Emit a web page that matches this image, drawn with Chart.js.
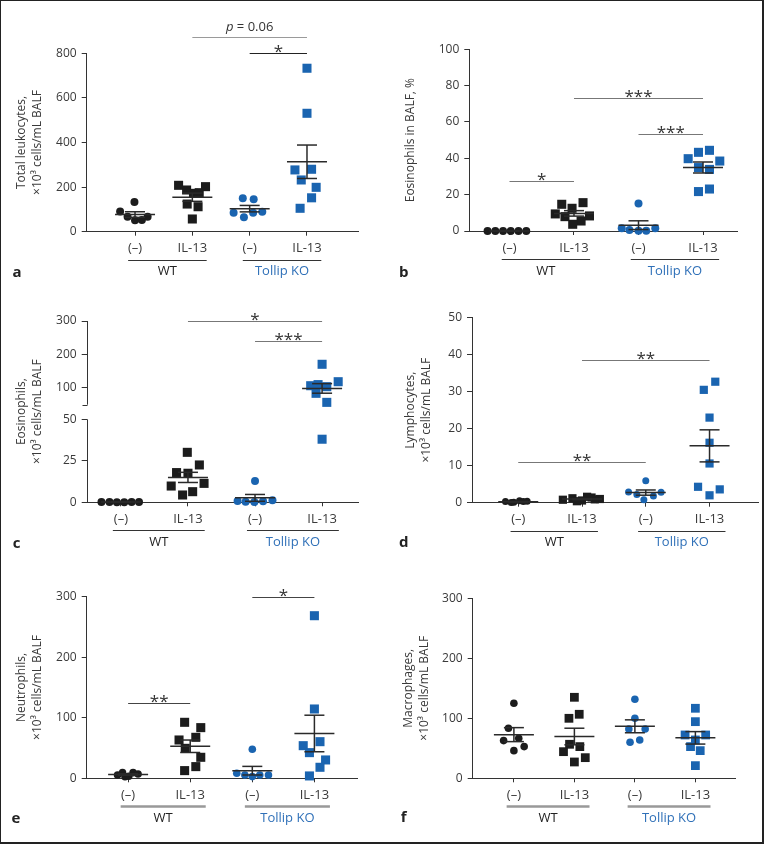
<!DOCTYPE html>
<html><head><meta charset="utf-8">
<script src="https://cdn.jsdelivr.net/npm/chart.js@4.4.1/dist/chart.umd.min.js"></script>
<style>
html,body{margin:0;padding:0;background:#fff;}
#fig{position:relative;width:764px;height:844px;overflow:hidden;background:#fff;}
#fig canvas{position:absolute;}
.frame{position:absolute;left:0;top:0;width:764px;height:844px;box-sizing:border-box;border:1px solid #222;border-right-width:2px;border-bottom-width:2px;pointer-events:none;}
.letter{position:absolute;font:bold 15px "Open Sans","Noto Sans",sans-serif;color:#222;transform:translate(-50%,-55%);line-height:1;}
</style></head><body><div id="fig"><div class="frame"></div></div>
<script>
// ---------------- DATA ----------------
const CAT_LABELS = ['(–)', 'IL-13', '(–)', 'IL-13'];
const GENOTYPES = ['WT', 'Tollip KO'];

const totalLeukocytes = [
  [91, 133, 67, 51, 52, 67],
  [208, 187, 172, 175, 202, 124, 112, 57],
  [150, 145, 85, 65, 85, 90],
  [733, 531, 277, 280, 232, 199, 152, 105]];
const totalLeukocytesX = [
  [-0.26, -0.01, -0.13, 0, 0.12, 0.22],
  [-0.24, -0.10, 0.02, 0.12, 0.23, -0.09, 0.10, 0],
  [-0.12, 0.07, -0.28, -0.10, 0.06, 0.22],
  [0, 0, -0.21, 0.08, -0.10, 0.16, 0.08, -0.12]];

const eosPercent = [
  [0, 0, 0, 0, 0, 0],
  [14.7, 12.5, 15.6, 9.4, 7.9, 8.3, 5.5, 3.7],
  [15.2, 1.5, 0.6, 0.2, 0.2, 1.5],
  [39.8, 43.3, 44.4, 38.5, 34.9, 33.9, 21.7, 23.1]];
const eosPercentX = [
  [-0.34, -0.22, -0.10, 0.02, 0.14, 0.26],
  [-0.19, -0.03, 0.14, -0.29, -0.14, 0.24, 0.11, -0.02],
  [0, -0.26, -0.14, 0, 0.12, 0.26],
  [-0.23, -0.07, 0.10, 0.26, -0.07, 0.10, -0.07, 0.10]];

const eosCount = [
  [0.2, 0.2, 0.1, 0.1, 0.2, 0.2],
  [30.1, 22.5, 17.9, 17.5, 9.8, 11.4, 6.4, 4.4],
  [12.9, 0.8, 0.3, 0.2, 0.6, 1.2],
  [170.7, 106.7, 84, 103.8, 118.7, 57, 38, 110]];
const eosCountX = [
  [-0.29, -0.17, -0.06, 0.05, 0.16, 0.27],
  [-0.01, 0.17, -0.17, 0, -0.25, 0.24, 0.07, -0.08],
  [0, -0.26, -0.14, -0.01, 0.12, 0.26],
  [0, -0.17, -0.09, 0.07, 0.24, 0.07, 0, -0.06]];

const lymphocytes = [
  [0.3, 0.1, 0.5, 0.4, 0.05, 0.3],
  [0.8, 1.2, 0.6, 1.4, 1.0, 0.4, 1.6, 0.9],
  [5.9, 2.9, 2.2, 0.8, 1.8, 2.8],
  [30.5, 32.7, 23.0, 16.2, 10.6, 4.3, 3.6, 2.0]];
const lymphocytesX = [
  [-0.2, -0.07, 0.02, 0.14, -0.11, 0.08],
  [-0.3, -0.15, 0, 0.15, 0.28, -0.08, 0.08, 0.2],
  [0, -0.27, -0.14, -0.03, 0.12, 0.24],
  [-0.09, 0.09, 0, 0, 0, -0.18, 0.16, 0]];

const neutrophils = [
  [5.5, 9.3, 2.6, 9.3, 7.0, 3.5],
  [92.5, 83.7, 63.3, 67.7, 49.5, 34.7, 19.3, 12.7],
  [47.9, 8.3, 5.5, 2.8, 5.5, 5.5],
  [268.6, 114.5, 53.9, 60.5, 42.4, 30.3, 18.2, 3.9]];
const neutrophilsX = [
  [-0.17, -0.09, -0.05, 0.08, 0.16, 0.01],
  [-0.09, 0.17, -0.18, 0.09, -0.08, 0.17, 0.09, -0.09],
  [0, -0.25, -0.12, 0, 0.12, 0.26],
  [0, 0, -0.18, 0.09, -0.08, 0.18, 0.09, -0.08]];

const macrophages = [
  [125, 83.3, 62.8, 66.7, 52.8, 46.1],
  [135, 100, 106.7, 56.7, 52.8, 44.4, 34.4, 27.2],
  [131.7, 100, 82.2, 82.2, 60, 63.9],
  [116.7, 94.4, 72.2, 72.2, 52.8, 46.1, 63.9, 21.1]];
const macrophagesX = [
  [0, -0.09, -0.17, 0.08, 0.17, 0],
  [0, -0.09, 0.08, -0.08, 0.09, -0.18, 0.18, 0],
  [0, 0, -0.1, 0.17, -0.08, 0.08],
  [0, 0, -0.17, 0.17, -0.08, 0.08, 0, 0]];

// significance brackets: [from category, to category, y value, label]
const sigA = [[2, 4, 875, 'p = 0.06'], [3, 4, 803, '*']];
const sigB = [[1, 2, 27.5, '*'], [2, 4, 73.4, '***'], [3, 4, 53.4, '***']];
const sigC = [[2, 4, 300, '*'], [3, 4, 240, '***']];
const sigD = [[1, 3, 11.1, '**'], [2, 4, 38.6, '**']];
const sigE = [[1, 2, 125, '**'], [3, 4, 300, '*']];
const sigF = [];

const ticksA = [0, 200, 400, 600, 800];
const ticksB = [0, 20, 40, 60, 80, 100];
const ticksC = [0, 25, 50, 100, 200, 300];
const ticksD = [0, 10, 20, 30, 40, 50];
const ticksE = [0, 100, 200, 300];
const ticksF = [0, 100, 200, 300];

const titleA = ['Total leukocytes,', '×10³ cells/mL BALF'];
const titleB = ['Eosinophils in BALF, %'];
const titleC = ['Eosinophils,', '×10³ cells/mL BALF'];
const titleD = ['Lymphocytes,', '×10³ cells/mL BALF'];
const titleE = ['Neutrophils,', '×10³ cells/mL BALF'];
const titleF = ['Macrophages,', '×10³ cells/mL BALF'];

// ---------------- STYLE ----------------
const BLACK = '#1c1c1c', BLUE = '#1a64b0', AXIS = '#333', TXT = '#3a3a3a', BLUE_TXT = '#2f70b8';
const FONT = '"Open Sans", "Noto Sans", sans-serif';
const BREAK = {at: 50, low: 83 / 181.3, high: 83.7 / 181.3};

class BrokenScale extends Chart.LinearScale {
  getPixelForValue(value) {
    const H = this.bottom - this.top, b = BREAK.at;
    if (value <= b) return this.bottom - (value - this.min) / (b - this.min) * H * BREAK.low;
    return this.top + (this.max - value) / (this.max - b) * H * BREAK.high;
  }
  getValueForPixel(p) {
    const H = this.bottom - this.top, b = BREAK.at;
    const lowTop = this.bottom - H * BREAK.low;
    if (p >= lowTop) return this.min + (this.bottom - p) / (H * BREAK.low) * (b - this.min);
    return this.max - (p - this.top) / (H * BREAK.high) * (this.max - b);
  }
}
BrokenScale.id = 'broken';
BrokenScale.defaults = Chart.LinearScale.defaults;
Chart.register(BrokenScale);

const panels = [
  {letter: 'a', lpos: [17, 271.7], cell: [0, 0, 382, 280], area: [86.7, 53.3, 358, 231.7], xr: [0.157, 4.89],
   yr: [0, 800], ticks: ticksA, values: totalLeukocytes, jitter: totalLeukocytesX, sig: sigA, sigCol: ['#9a9a9a', '#222'],
   title: titleA, tpad: 13.9, rc: 4, rs: 6.4, ul: ['#333', 1]},
  {letter: 'b', lpos: [403.7, 271.7], cell: [382, 0, 764, 280], area: [469.3, 49.3, 737, 231], xr: [0.377, 4.527],
   yr: [0, 100], ticks: ticksB, values: eosPercent, jitter: eosPercentX, sig: sigB, sigCol: ['#777', '#777', '#777'],
   title: titleB, tpad: 20.5, rc: 4, rs: 6.4, ul: ['#333', 1]},
  {letter: 'c', lpos: [16.7, 543.3], cell: [0, 280, 382, 560], area: [86.7, 321, 358.3, 502.3], xr: [0.49, 4.54],
   yr: [0, 300], ticks: ticksC, values: eosCount, jitter: eosCountX, sig: sigC, sigCol: ['#777', '#777'],
   title: titleC, tpad: 13.9, rc: 4, rs: 6.4, ul: ['#333', 1], broken: true},
  {letter: 'd', lpos: [403.7, 541.7], cell: [382, 280, 764, 560], area: [472, 317.7, 758, 502.7], xr: [0.275, 4.76],
   yr: [0, 50], ticks: ticksD, values: lymphocytes, jitter: lymphocytesX, sig: sigD, sigCol: ['#777', '#777'],
   title: titleD, tpad: 21.2, rc: 3.5, rs: 5.8, ul: ['#333', 1]},
  {letter: 'e', lpos: [16, 818], cell: [0, 560, 382, 844], area: [86.7, 596.7, 357, 778.3], xr: [0.333, 4.686],
   yr: [0, 300], ticks: ticksE, values: neutrophils, jitter: neutrophilsX, sig: sigE, sigCol: ['#444', '#444'],
   title: titleE, tpad: 13.9, rc: 3.8, rs: 6.4, ul: ['#999', 2.5]},
  {letter: 'f', lpos: [403.7, 817.3], cell: [382, 560, 764, 844], area: [472.7, 598.3, 735, 778.3], xr: [0.319, 4.655],
   yr: [0, 300], ticks: ticksF, values: macrophages, jitter: macrophagesX, sig: sigF, sigCol: [],
   title: titleF, tpad: 18.9, rc: 3.8, rs: 6.2, ul: ['#999', 2.5]}
];

function seg(ctx, x1, y1, x2, y2) { ctx.beginPath(); ctx.moveTo(x1, y1); ctx.lineTo(x2, y2); ctx.stroke(); }

function decor(p) {
  return {
    id: 'decor',
    afterDatasetsDraw(chart) {
      const ctx = chart.ctx, ca = chart.chartArea, xs = chart.scales.x, ys = chart.scales.y;
      ctx.save();
      // mean ± SEM
      p.values.forEach((vals, i) => {
        const n = vals.length, m = vals.reduce((a, b) => a + b, 0) / n;
        const sd = Math.sqrt(vals.reduce((a, b) => a + (b - m) * (b - m), 0) / (n - 1));
        const se = sd / Math.sqrt(n);
        const cx = xs.getPixelForValue(i + 1);
        const ym = ys.getPixelForValue(m), yt = ys.getPixelForValue(m + se), yb = ys.getPixelForValue(Math.max(m - se, 0));
        ctx.strokeStyle = '#2a2a2a'; ctx.lineWidth = 1.5;
        seg(ctx, cx - 20, ym, cx + 20, ym);
        seg(ctx, cx, yt, cx, yb);
        seg(ctx, cx - 10, yt, cx + 10, yt);
        seg(ctx, cx - 10, yb, cx + 10, yb);
      });
      // significance brackets
      p.sig.forEach(([a, b, v, label], k) => {
        const x1 = xs.getPixelForValue(a), x2 = xs.getPixelForValue(b), y = Math.round(ys.getPixelForValue(v)) + 0.5;
        ctx.strokeStyle = p.sigCol[k]; ctx.lineWidth = 1.2;
        seg(ctx, x1, y, x2, y);
        const mid = (x1 + x2) / 2;
        ctx.fillStyle = '#333';
        if (label[0] === 'p') {
          const rest = label.slice(1);
          ctx.font = `italic 13px ${FONT}`; const wp = ctx.measureText('p').width;
          ctx.font = `13px ${FONT}`; const wr = ctx.measureText(rest).width;
          const x0 = mid - (wp + wr) / 2;
          ctx.textBaseline = 'middle'; ctx.textAlign = 'left';
          ctx.font = `italic 13px ${FONT}`; ctx.fillText('p', x0, y - 10);
          ctx.font = `13px ${FONT}`; ctx.fillText(rest, x0 + wp, y - 10);
        } else {
          ctx.font = `17px ${FONT}`; ctx.textAlign = 'center'; ctx.textBaseline = 'alphabetic';
          ctx.fillText(label, mid, y + 3);
        }
      });
      // broken axis segments
      if (p.broken) {
        const ax = Math.round(ca.left) + 0.5;
        const yLow = ys.getPixelForValue(BREAK.at), yUp = ys.getPixelForValue(BREAK.at + 1e-9);
        ctx.strokeStyle = AXIS; ctx.lineWidth = 1;
        seg(ctx, ax, ca.bottom, ax, yLow);
        seg(ctx, ax, ca.top, ax, yUp);
        seg(ctx, ax - 5, Math.round(yUp) + 0.5, ax, Math.round(yUp) + 0.5);
      }
      // genotype underlines and labels
      const uy = Math.round(ca.bottom + 28) + 0.5;
      [[1, 2], [3, 4]].forEach(([a, b], g) => {
        const x1 = xs.getPixelForValue(a - 0.12), x2 = xs.getPixelForValue(b + 0.25);
        ctx.strokeStyle = p.ul[0]; ctx.lineWidth = p.ul[1];
        seg(ctx, x1, uy, x2, uy);
        ctx.fillStyle = g ? BLUE_TXT : '#222';
        ctx.font = `13px ${FONT}`; ctx.textAlign = 'center'; ctx.textBaseline = 'middle';
        ctx.fillText(GENOTYPES[g], (x1 + x2) / 2, ca.bottom + 40);
      });
      ctx.restore();
    }
  };
}

const fig = document.getElementById('fig');
panels.forEach(p => {
  const [cx0, cy0, cx1, cy1] = p.cell, [L, T, R, B] = p.area;
  const cv = document.createElement('canvas');
  cv.width = cx1 - cx0; cv.height = cy1 - cy0;
  cv.style.left = cx0 + 'px'; cv.style.top = cy0 + 'px';
  cv.style.width = (cx1 - cx0) + 'px'; cv.style.height = (cy1 - cy0) + 'px';
  fig.insertBefore(cv, fig.firstChild);
  const lt = document.createElement('div');
  lt.className = 'letter'; lt.textContent = p.letter;
  lt.style.left = p.lpos[0] + 'px'; lt.style.top = p.lpos[1] + 'px';
  fig.appendChild(lt);

  const datasets = p.values.map((vals, i) => ({
    data: vals.map((v, j) => ({x: i + 1 + p.jitter[i][j], y: v})),
    pointStyle: i % 2 === 0 ? 'circle' : 'rect',
    pointRadius: i % 2 === 0 ? p.rc : p.rs,
    backgroundColor: i < 2 ? BLACK : BLUE,
    borderWidth: 0, pointBorderWidth: 0, clip: false, showLine: false
  }));

  new Chart(cv, {
    type: 'scatter',
    data: {datasets},
    options: {
      responsive: false, animation: false, devicePixelRatio: 1, events: [],
      layout: {autoPadding: false, padding: {left: 0, top: T - cy0, right: cx1 - R, bottom: 0}},
      plugins: {legend: {display: false}, tooltip: {enabled: false}},
      scales: {
        x: {
          type: 'linear', position: 'bottom', min: p.xr[0], max: p.xr[1], bounds: 'data',
          afterBuildTicks: s => { s.ticks = CAT_LABELS.map((_, i) => ({value: i + 1})); },
          afterFit: s => { s.height = cy1 - B; },
          ticks: {callback: v => CAT_LABELS[Math.round(v) - 1], autoSkip: false, maxRotation: 0, minRotation: 0,
                  padding: 5, color: TXT, font: {family: FONT, size: 13}},
          grid: {display: true, drawOnChartArea: false, drawTicks: true, tickLength: 4, color: AXIS, lineWidth: 1},
          border: {display: true, color: AXIS, width: 1}
        },
        y: {
          type: p.broken ? 'broken' : 'linear', position: 'left', min: p.yr[0], max: p.yr[1], bounds: 'data',
          afterBuildTicks: s => { s.ticks = p.ticks.map(v => ({value: v})); },
          afterFit: s => { s.width = L - cx0; },
          ticks: {padding: 5, color: TXT, font: {family: FONT, size: 12}},
          grid: {display: true, drawOnChartArea: false, drawTicks: true, tickLength: 5, color: AXIS, lineWidth: 1},
          border: {display: !p.broken, color: AXIS, width: 1},
          title: {display: true, text: p.title, color: TXT, font: {family: FONT, size: 12, lineHeight: 1.3},
                  padding: {top: p.tpad, bottom: 0}}
        }
      }
    },
    plugins: [decor(p)]
  });
});
</script></body></html>
